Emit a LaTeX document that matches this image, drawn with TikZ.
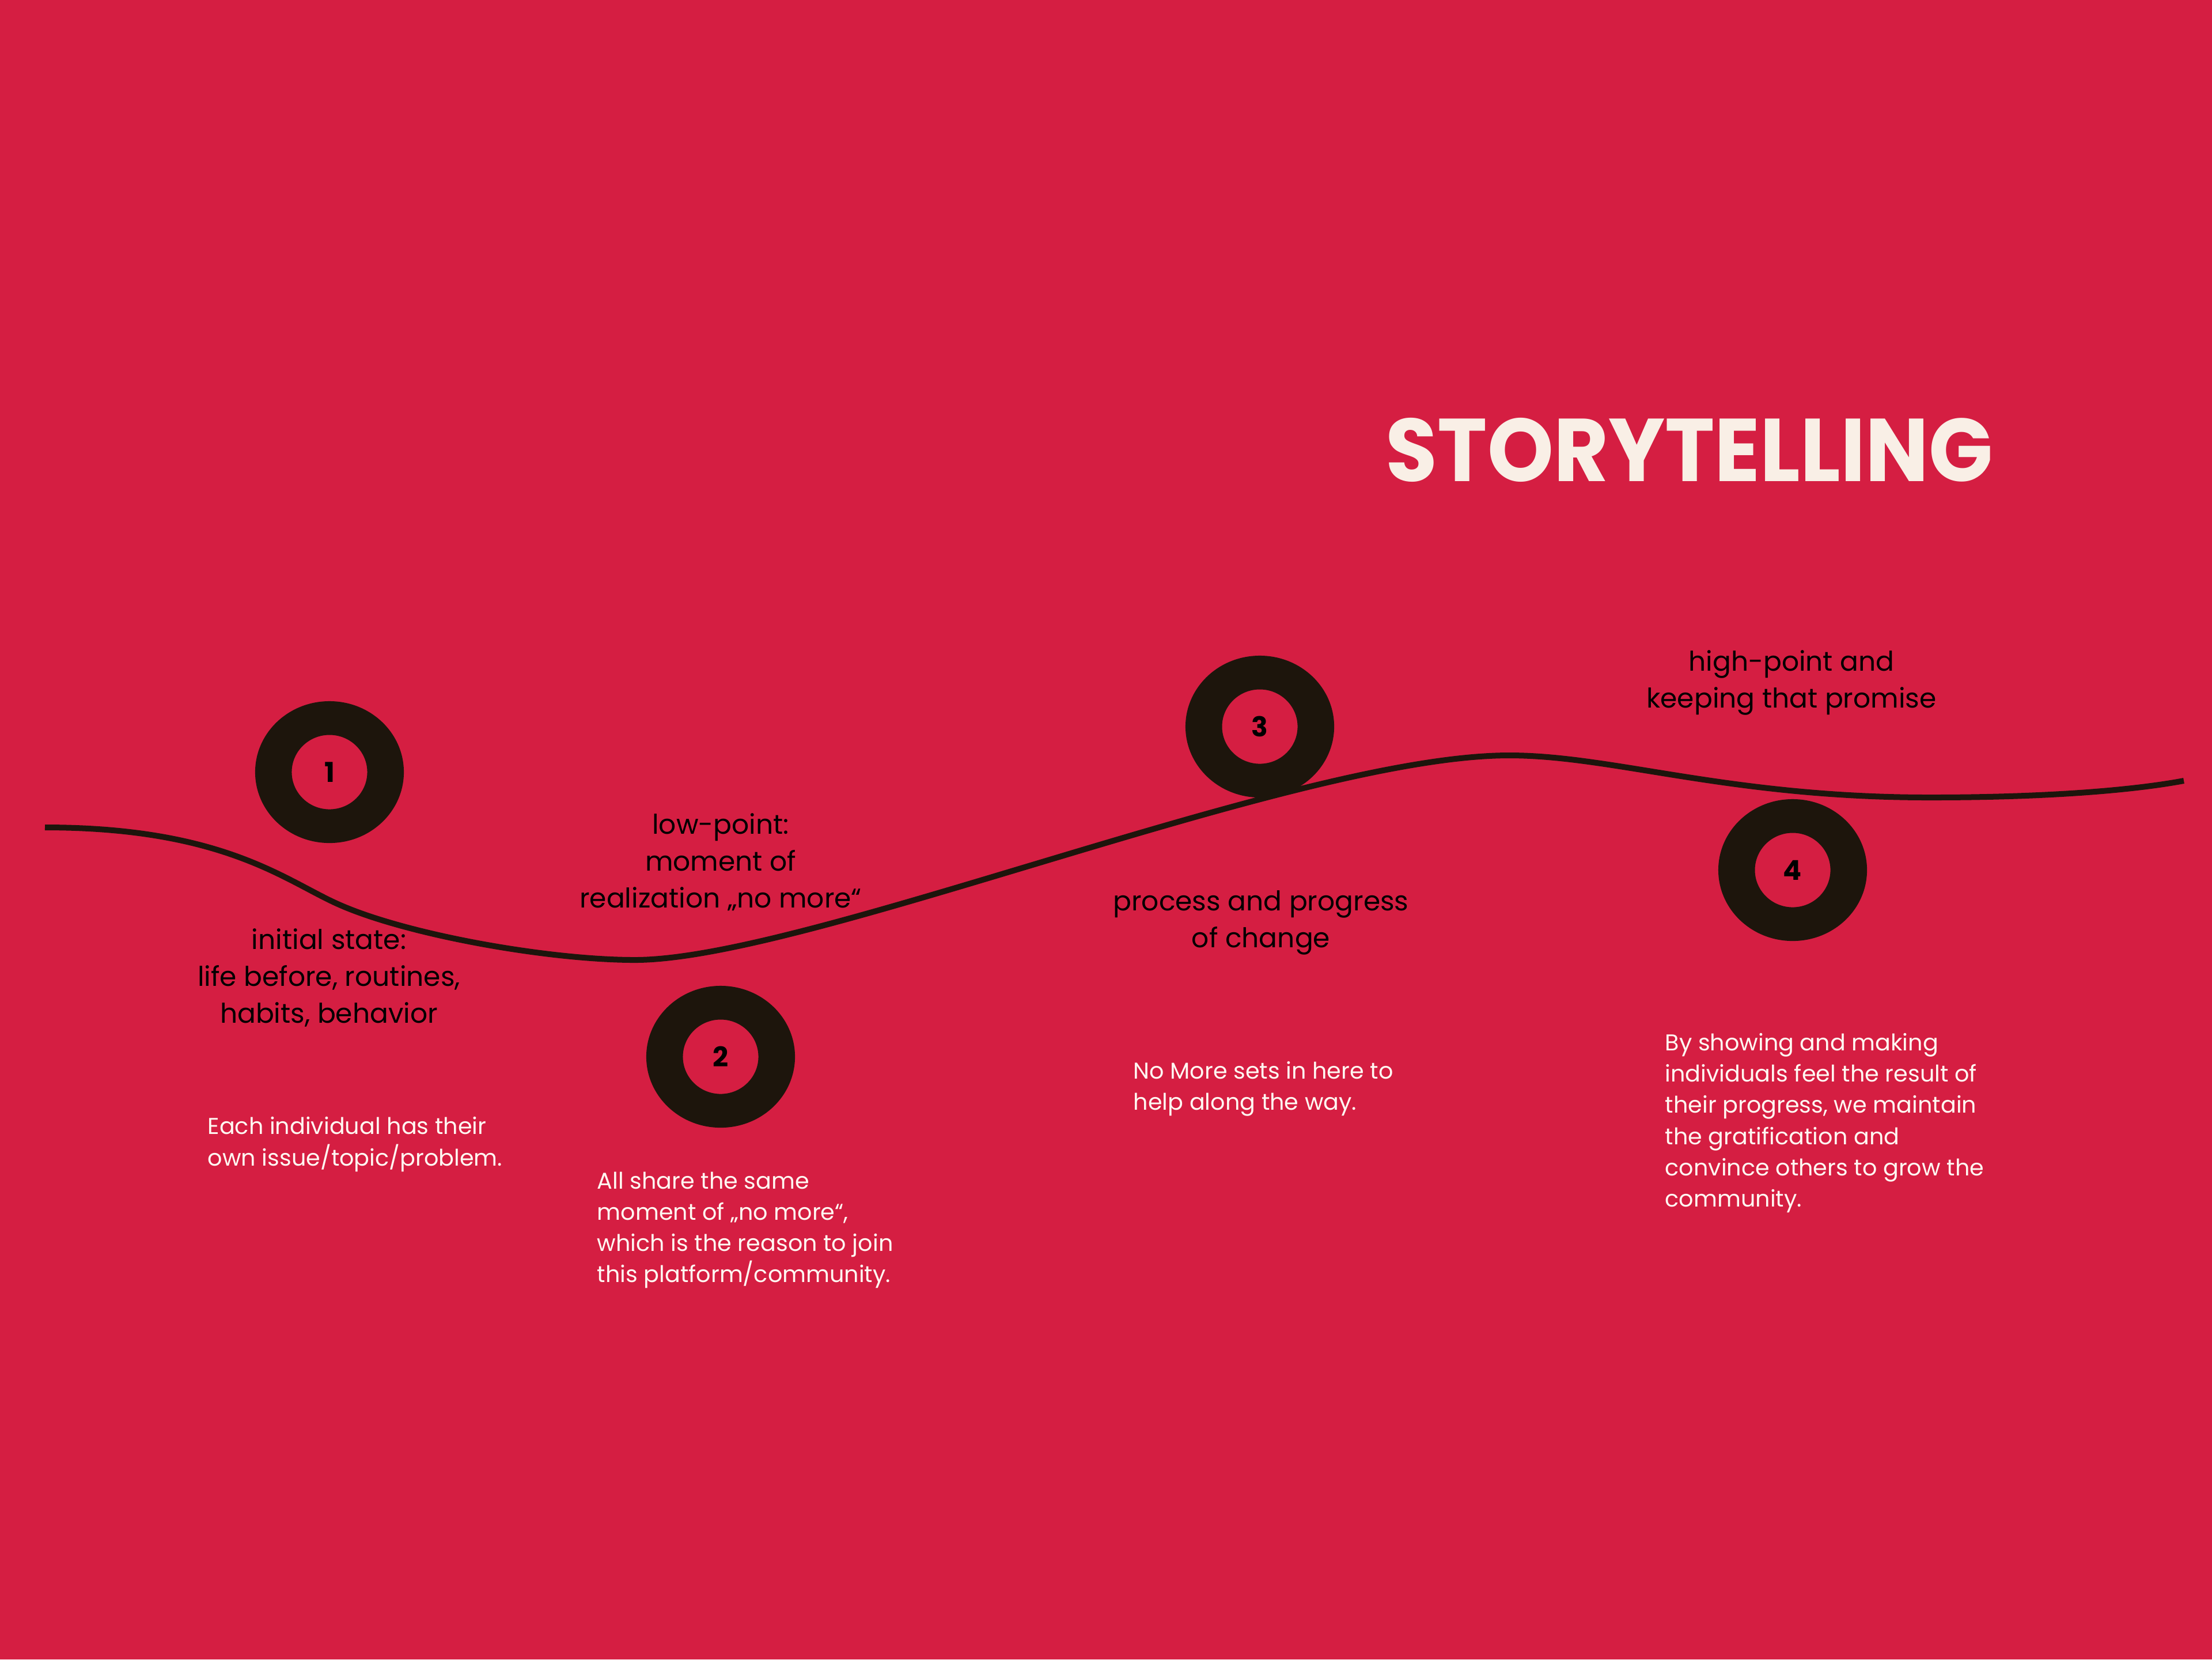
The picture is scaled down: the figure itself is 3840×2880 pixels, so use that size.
\documentclass[tikz,border=0pt]{standalone}
\usepackage{fontspec}
\setmainfont{Poppins}
\definecolor{bg}{RGB}{213,30,66}
\definecolor{ink}{RGB}{29,21,12}
\definecolor{cream}{RGB}{249,239,230}
\definecolor{paper}{RGB}{255,248,242}
\tikzset{
  ring/.style={fill=ink, even odd rule},
  num/.style={inner sep=0pt, font=\fontsize{13.5}{14}\selectfont\bfseries, text=black},
  blabel/.style={inner sep=0pt, align=center, text=black, font=\fontsize{13.4}{18.2}\selectfont},
  wlabel/.style={inner sep=0pt, align=left, anchor=west, text=paper, font=\fontsize{11.3}{15.4}\selectfont},
  story/.style={draw=ink, line width=0.1cm},
}
\begin{document}
\begin{tikzpicture}[x=0.01cm, y=-0.01cm]
\fill[bg] (0,0) rectangle (3840,2880);
\useasboundingbox (0,0) rectangle (3840,2880);

% title
\node[inner sep=0pt, anchor=west, text=cream, font=\fontsize{44}{50}\selectfont\bfseries] (title) at (2405,781) {\scalebox{0.945}[1]{STORYTELLING}};

% story curve
\coordinate (s0) at (78,1436);
\coordinate (sa) at (580,1566);
\coordinate (s1) at (1102,1666);
\coordinate (s2) at (2620,1311);
\coordinate (s3) at (3350,1384);
\coordinate (s4) at (3791,1355);
\draw[story] (s0) .. controls (380,1436) and (490,1524) .. (sa)
  .. controls (697,1621) and (950,1666) .. (s1)
  .. controls (1400,1666) and (2250,1311) .. (s2)
  .. controls (2800,1311) and (3000,1384) .. (s3)
  .. controls (3550,1384) and (3700,1372) .. (s4);

% rings and numbers
\node[num] (n1) at (572,1340) {1};
\node[num] (n2) at (1251,1834) {2};
\node[num] (n3) at (2187,1261) {3};
\node[num] (n4) at (3112,1510) {4};
\foreach \n in {n1,n2,n3,n4}{
  \fill[ring] (\n.center) ellipse [x radius=1.29cm, y radius=1.23cm] (\n.center) ellipse [x radius=0.655cm, y radius=0.645cm];
}

% black labels
\node[blabel] (l1) at (571,1697) {initial state:\\life before, routines,\\habits, behavior};
\node[blabel] (l2) at (1251,1496) {low-point:\\moment of\\realization „no more“};
\node[blabel] (l3) at (2189,1601) {process and progress\\of change};
\node[blabel] (l4) at (3110,1185) {high-point and\\keeping that promise};

% white texts
\node[wlabel] (w1) at (360,1986) {Each individual has their\\own issue/topic/problem.};
\node[wlabel] (w2) at (1036,2135) {All share the same\\moment of „no more“,\\which is the reason to join\\this platform/community.};
\node[wlabel] (w3) at (1967,1890) {No More sets in here to\\help along the way.};
\node[wlabel] (w4) at (2890,1949) {By showing and making\\individuals feel the result of\\their progress, we maintain\\the gratification and\\convince others to grow the\\community.};
\end{tikzpicture}
\end{document}
